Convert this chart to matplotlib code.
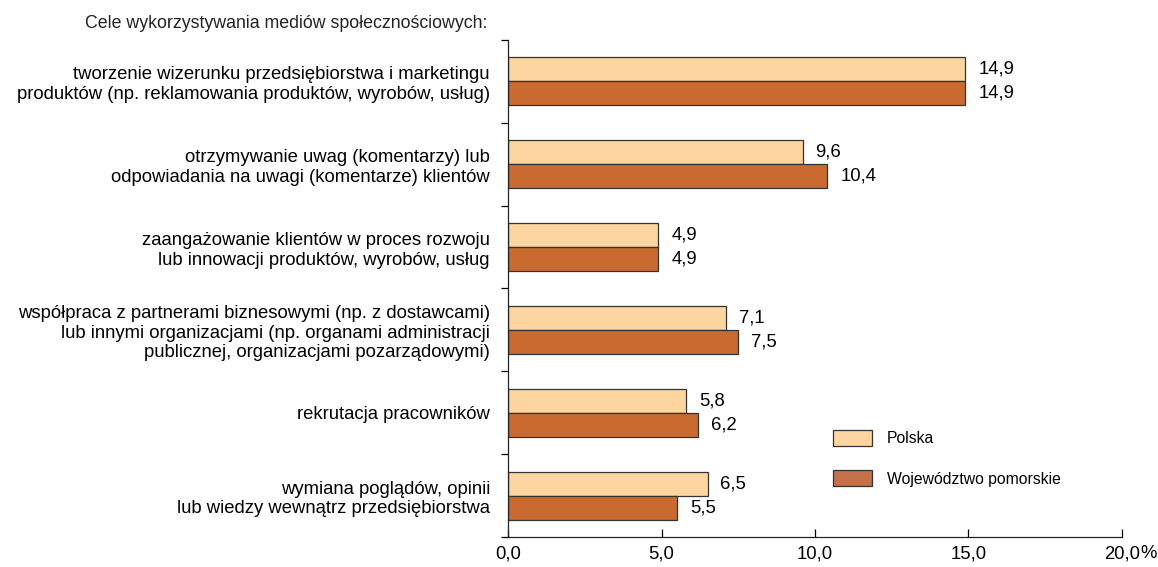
import matplotlib.pyplot as plt
import numpy as np
from matplotlib.patches import Patch

plt.rcParams['font.family'] = ['Liberation Sans', 'DejaVu Sans']

# data
categories = [
    "tworzenie wizerunku przedsiębiorstwa i marketingu\nproduktów (np. reklamowania produktów, wyrobów, usług)",
    "otrzymywanie uwag (komentarzy) lub\nodpowiadania na uwagi (komentarze) klientów",
    "zaangażowanie klientów w proces rozwoju\nlub innowacji produktów, wyrobów, usług",
    "współpraca z partnerami biznesowymi (np. z dostawcami)\nlub innymi organizacjami (np. organami administracji\npublicznej, organizacjami pozarządowymi)",
    "rekrutacja pracowników",
    "wymiana poglądów, opinii\nlub wiedzy wewnątrz przedsiębiorstwa",
]
polska = [14.9, 9.6, 4.9, 7.1, 5.8, 6.5]
pomorskie = [14.9, 10.4, 4.9, 7.5, 6.2, 5.5]
series_names = ["Polska", "Województwo pomorskie"]
xticks = [0, 5, 10, 15, 20]
xtick_labels = ["0,0", "5,0", "10,0", "15,0", "20,0"]

c_pl = "#FDD5A0"
c_pom = "#C96A30"
edge = "#333333"
fs = 13.35

fig = plt.figure(figsize=(11.58, 5.67), dpi=100)
ax = fig.add_axes([0.4387, 0.0529, 0.5302, 0.8766])

y = np.arange(len(categories))
h = 0.29
ax.barh(y - h / 2, polska, height=h, color=c_pl, edgecolor=edge, linewidth=0.9)
ax.barh(y + h / 2, pomorskie, height=h, color=c_pom, edgecolor=edge, linewidth=0.9)

for yi, v in zip(y, polska):
    ax.text(v + 0.42, yi - h / 2, f"{v:.1f}".replace(".", ","), va="center", ha="left", fontsize=fs)
for yi, v in zip(y, pomorskie):
    ax.text(v + 0.42, yi + h / 2, f"{v:.1f}".replace(".", ","), va="center", ha="left", fontsize=fs)

ax.set_ylim(len(categories) - 0.5, -0.5)
ax.set_xlim(0, 20)

ax.set_yticks(y)
ax.set_yticklabels(categories, fontsize=fs, linespacing=1.2)
ax.tick_params(axis="y", which="major", length=0, pad=13)
ax.set_yticks(np.arange(-0.5, len(categories), 1), minor=True)
ax.tick_params(axis="y", which="minor", length=5, direction="out", width=0.9)

ax.set_xticks(xticks)
ax.set_xticklabels(xtick_labels, fontsize=fs)
ax.tick_params(axis="x", length=6, direction="in", width=0.9, pad=6)
ax.annotate("%", xy=(20, 0), xycoords=ax.get_xaxis_transform(),
            xytext=(13, -6), textcoords="offset points",
            fontsize=fs, ha="left", va="top")

for s in ["top", "right"]:
    ax.spines[s].set_visible(False)
for s in ["left", "bottom"]:
    ax.spines[s].set_linewidth(0.9)
    ax.spines[s].set_color("#222222")

fig.text(0.0735, 0.958, "Cele wykorzystywania mediów społecznościowych:", fontsize=12.8,
         ha="left", va="center", color="#222222")

handles = [Patch(facecolor=c_pl, edgecolor=edge, linewidth=0.9),
           Patch(facecolor="#C4714A", edgecolor=edge, linewidth=0.9)]
fig.legend(handles, series_names, loc="upper left", bbox_to_anchor=(0.7193, 0.242),
           frameon=False, fontsize=11.3, handlelength=2.5, handleheight=1.2,
           labelspacing=1.54, handletextpad=0.95, borderpad=0, borderaxespad=0)

fig.savefig("out.png", dpi=100)
